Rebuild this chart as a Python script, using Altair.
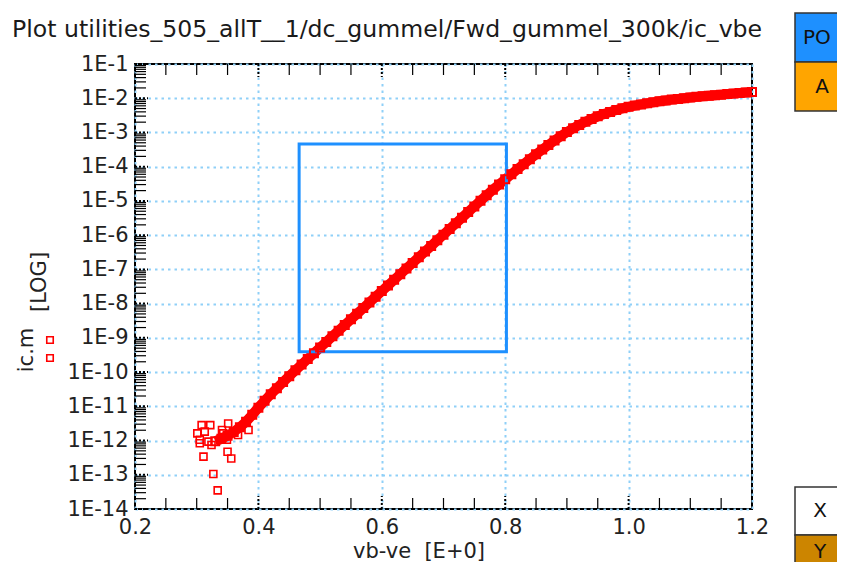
import altair as alt
import pandas as pd

# ---------------- data ----------------
vbe = [0.33, 0.34, 0.35, 0.36, 0.37, 0.38, 0.39, 0.40, 0.41, 0.42,
       0.43, 0.44, 0.45, 0.46, 0.47, 0.48, 0.49, 0.50, 0.51, 0.52,
       0.53, 0.54, 0.55, 0.56, 0.57, 0.58, 0.59, 0.60, 0.61, 0.62,
       0.63, 0.64, 0.65, 0.66, 0.67, 0.68, 0.69, 0.70, 0.71, 0.72,
       0.73, 0.74, 0.75, 0.76, 0.77, 0.78, 0.79, 0.80, 0.81, 0.82,
       0.83, 0.84, 0.85, 0.86, 0.87, 0.88, 0.89, 0.90, 0.91, 0.92,
       0.93, 0.94, 0.95, 0.96, 0.97, 0.98, 0.99, 1.00, 1.01, 1.02,
       1.03, 1.04, 1.05, 1.06, 1.07, 1.08, 1.09, 1.10, 1.11, 1.12,
       1.13, 1.14, 1.15, 1.16, 1.17, 1.18, 1.19, 1.20]
# log10(ic)
log_ic = [-12.02, -11.95, -11.86, -11.75, -11.61, -11.45, -11.25, -11.04, -10.84, -10.65,
          -10.47, -10.29, -10.12, -9.95, -9.78, -9.615, -9.45, -9.285, -9.12, -8.955,
          -8.79, -8.625, -8.46, -8.295, -8.13, -7.965, -7.80, -7.635, -7.47, -7.305,
          -7.14, -6.975, -6.81, -6.645, -6.48, -6.315, -6.15, -5.985, -5.82, -5.655,
          -5.49, -5.325, -5.16, -4.995, -4.835, -4.675, -4.52, -4.37, -4.22, -4.07,
          -3.925, -3.78, -3.64, -3.50, -3.365, -3.235, -3.11, -2.99, -2.88, -2.78,
          -2.69, -2.61, -2.53, -2.46, -2.40, -2.345, -2.295, -2.25, -2.215, -2.18,
          -2.15, -2.12, -2.09, -2.065, -2.04, -2.02, -2.00, -1.98, -1.96, -1.94,
          -1.925, -1.91, -1.895, -1.88, -1.865, -1.85, -1.835, -1.82]

# scattered low-current points
noise_vbe = [0.308, 0.322, 0.301, 0.313, 0.305, 0.311, 0.327, 0.334, 0.350, 0.356,
             0.351, 0.341, 0.384, 0.367, 0.349, 0.338, 0.319, 0.324, 0.305, 0.343]
noise_ic = [2.82e-12, 2.82e-12, 1.62e-12, 1.82e-12, 8.3e-13, 3.4e-13, 1.05e-13, 3.5e-14, 4.7e-13, 3.0e-13,
            3.16e-12, 2.04e-12, 2.04e-12, 1.45e-12, 1.05e-12, 1.05e-12, 9.3e-13, 7.4e-13, 1.05e-12, 1.62e-12]

# blue zoom rectangle
box_vbe = [0.466, 0.802]
box_ic = [3.9e-10, 4.6e-4]

x_major = [0.2, 0.4, 0.6, 0.8, 1.0, 1.2]
x_minor = [0.25, 0.30, 0.35, 0.45, 0.50, 0.55, 0.65, 0.70, 0.75, 0.85, 0.90, 0.95, 1.05, 1.10, 1.15]
y_decades = [10.0 ** e for e in range(-14, 0)]
y_minor = [m * 10.0 ** e for e in range(-14, -1) for m in range(2, 10)]

TITLE = "Plot utilities_505_allT__1/dc_gummel/Fwd_gummel_300k/ic_vbe"
FONT = "DejaVu Sans"
RED = "#FF0000"
GRID = "#8FD0F8"

W, H = 617, 445

curve = pd.DataFrame({"v": vbe, "ic": [10.0 ** l for l in log_ic]})
noise = pd.DataFrame({"v": noise_vbe, "ic": noise_ic})
box = pd.DataFrame({"v": [box_vbe[0]], "v2": [box_vbe[1]], "ic": [box_ic[0]], "ic2": [box_ic[1]]})
one = pd.DataFrame({"a": [0]})

xs = alt.Scale(domain=[0.2, 1.2], nice=False, zero=False)
ys = alt.Scale(type="log", domain=[1e-14, 1e-1], nice=False)

xaxis = alt.Axis(values=x_major, format=".1f", grid=True, gridColor=GRID, gridDash=[2.5, 4],
                 gridWidth=2, ticks=False, domain=False, labelFont=FONT, labelFontSize=21,
                 labelColor="#222222", labelPadding=7, labelFlush=False, labelOverlap=False, title=None)
yaxis = alt.Axis(values=y_decades, labelExpr="'1E-' + round(-log(datum.value)/LN10)", grid=True,
                 gridColor=GRID, gridDash=[2.5, 4], gridWidth=2, ticks=False, domain=False,
                 labelFont=FONT, labelFontSize=21, labelColor="#222222", labelPadding=7,
                 labelFlush=False, labelOverlap=False, title=None)

X = alt.X("v:Q", scale=xs, axis=xaxis)
Y = alt.Y("ic:Q", scale=ys, axis=yaxis)

band_line = alt.Chart(curve).mark_line(color=RED, strokeWidth=10).encode(x=X, y=Y)
band_pts = alt.Chart(curve).mark_point(shape="square", filled=False, color=RED, size=64,
                                       strokeWidth=2, opacity=1).encode(x=X, y=Y)
noise_pts = alt.Chart(noise).mark_point(shape="square", filled=False, color=RED, size=49,
                                        strokeWidth=1.6, opacity=1).encode(x=X, y=Y)
box_rect = alt.Chart(box).mark_rect(filled=False, stroke="#1E90FF", strokeWidth=3).encode(
    x=X, x2="v2:Q", y=Y, y2="ic2:Q")

# tick marks (drawn inward)
ymin_df = pd.DataFrame({"ic": y_minor})
ymaj_df = pd.DataFrame({"ic": y_decades})
xmin_df = pd.DataFrame({"v": x_minor})
xmaj_df = pd.DataFrame({"v": x_major[1:-1]})

y_minor_ticks = alt.Chart(ymin_df).mark_rule(color="black", strokeWidth=1.2).encode(
    y=Y, x=alt.value(0), x2=alt.value(11))
y_major_ticks = alt.Chart(ymaj_df).mark_rule(color="black", strokeWidth=2, strokeDash=[2, 2]).encode(
    y=Y, x=alt.value(0), x2=alt.value(13))
x_minor_bot = alt.Chart(xmin_df).mark_rule(color="black", strokeWidth=1.2).encode(
    x=X, y=alt.value(H), y2=alt.value(H - 11))
x_minor_top = alt.Chart(xmin_df).mark_rule(color="black", strokeWidth=1.2).encode(
    x=X, y=alt.value(0), y2=alt.value(11))
x_major_bot = alt.Chart(xmaj_df).mark_rule(color="black", strokeWidth=2, strokeDash=[2, 2]).encode(
    x=X, y=alt.value(H), y2=alt.value(H - 13))
x_major_top = alt.Chart(xmaj_df).mark_rule(color="black", strokeWidth=2, strokeDash=[2, 2]).encode(
    x=X, y=alt.value(0), y2=alt.value(13))

# texts
title_txt = alt.Chart(one).mark_text(text=TITLE, font=FONT, fontSize=23.6, align="left",
                                     baseline="alphabetic", color="#1a1a1a").encode(
    x=alt.value(-123), y=alt.value(-27))
xtitle = alt.Chart(one).mark_text(text="vb-ve\u00a0\u00a0[E+0]", font=FONT, fontSize=21, align="center",
                                  baseline="middle", color="#222222").encode(
    x=alt.value(284), y=alt.value(488))
ytitle1 = alt.Chart(one).mark_text(text="ic.m", font=FONT, fontSize=21, align="center", angle=270,
                                   baseline="alphabetic", color="#222222").encode(
    x=alt.value(-102), y=alt.value(286))
ytitle2 = alt.Chart(one).mark_text(text="[LOG]", font=FONT, fontSize=21, align="center", angle=270,
                                   baseline="alphabetic", color="#222222").encode(
    x=alt.value(-89), y=alt.value(218))
leg1 = alt.Chart(one).mark_point(shape="square", filled=False, color=RED, size=42, strokeWidth=1.6, opacity=1).encode(
    x=alt.value(-85), y=alt.value(276))
leg2 = alt.Chart(one).mark_point(shape="square", filled=False, color=RED, size=42, strokeWidth=1.6, opacity=1).encode(
    x=alt.value(-85), y=alt.value(294))

# side buttons
def side_box(y0, y1, fill):
    return alt.Chart(one).mark_rect(fill=fill, stroke="#333333", strokeWidth=1.5).encode(
        x=alt.value(660), x2=alt.value(740), y=alt.value(y0), y2=alt.value(y1))

def side_text(txt, x, y, align="center"):
    return alt.Chart(one).mark_text(text=txt, font=FONT, fontSize=20, align=align, baseline="middle",
                                    color="#111111").encode(x=alt.value(x), y=alt.value(y))

boxes = [
    side_box(-51, -2, "#1E90FF"), side_text("PO", 668, -26, "left"),
    side_box(-2, 47, "#FFA500"), side_text("A", 687, 23),
    side_box(423, 471, "#FFFFFF"), side_text("X", 685, 447),
    side_box(471, 530, "#CC8500"), side_text("Y", 685, 488),
]

chart = alt.layer(
    band_line, box_rect, band_pts, noise_pts,
    y_minor_ticks, y_major_ticks, x_minor_bot, x_minor_top, x_major_bot, x_major_top,
    title_txt, xtitle, ytitle1, ytitle2, leg1, leg2, *boxes,
).properties(
    width=W, height=H,
    autosize=alt.AutoSizeParams(type="none"),
    padding={"left": 127, "top": 56, "right": 85, "bottom": 53},
).configure_view(stroke="black", strokeWidth=2)

chart.save("out.html", embed_options={"renderer": "svg", "actions": False})
